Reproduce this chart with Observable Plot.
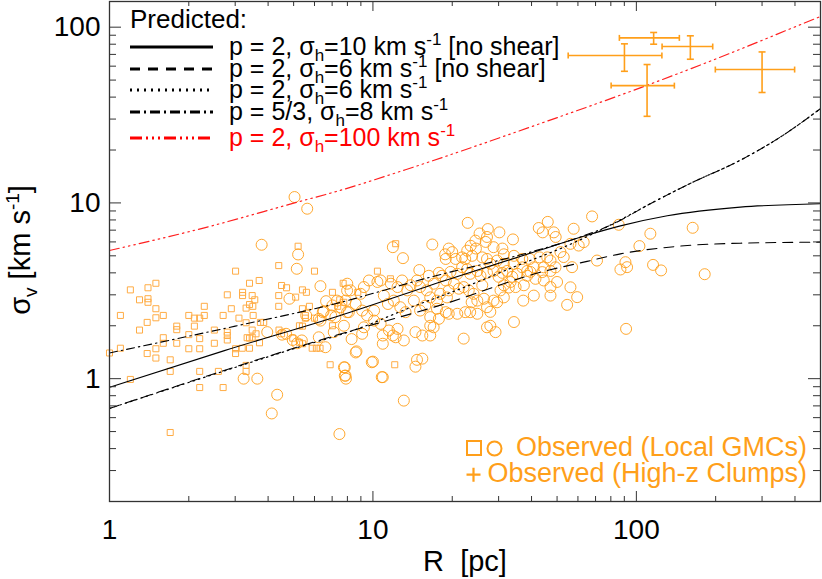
<!DOCTYPE html>
<html><head><meta charset="utf-8">
<script src="https://cdn.jsdelivr.net/npm/d3@7"></script>
<script src="https://cdn.jsdelivr.net/npm/@observablehq/plot@0.6"></script>
<style>body{margin:0;background:#fff;}</style>
</head><body><div id="chart"></div>
<script>
// Local GMCs (squares): [R pc, sigma km/s]
const squares = [[1.00,1.40],[1.10,2.29],[1.20,3.20],[1.30,2.81],[1.40,2.85],[1.40,2.72],[1.40,3.29],[1.50,3.49],[1.50,2.50],[1.50,2.22],[1.60,2.29],[1.39,2.09],[1.30,1.89],[1.10,1.49],[1.20,0.99],[1.60,1.71],[1.50,1.48],[1.50,1.31],[1.39,1.39],[1.60,1.59],[1.70,1.28],[1.80,1.99],[1.80,1.90],[1.80,1.59],[1.70,1.10],[2.00,2.29],[2.10,2.21],[2.20,2.21],[2.10,1.99],[2.29,2.58],[2.29,2.29],[2.00,1.78],[2.00,1.48],[2.20,1.69],[2.20,1.48],[2.50,1.89],[2.50,1.59],[2.70,2.29],[2.80,3.00],[2.90,2.50],[3.01,4.09],[2.80,1.84],[2.80,1.76],[2.80,1.66],[3.01,1.48],[3.01,1.39],[3.10,2.21],[3.20,3.10],[3.20,2.97],[3.30,2.52],[3.40,3.49],[3.40,2.64],[3.48,2.97],[3.51,2.29],[3.56,2.81],[3.70,3.62],[3.74,2.09],[3.85,2.09],[3.48,1.89],[3.48,1.72],[3.33,1.71],[4.39,4.40],[4.50,3.39],[4.39,2.97],[4.39,2.58],[4.40,1.89],[4.70,3.29],[5.09,2.91],[5.20,5.67],[5.40,3.20],[5.59,3.10],[5.40,2.50],[6.00,4.09],[5.54,2.29],[5.54,2.21],[5.40,1.99],[6.00,2.21],[7.02,3.10],[7.71,3.49],[7.48,2.81],[2.20,1.10],[2.59,1.10],[2.70,0.89],[2.20,0.89],[3.30,1.19],[3.30,1.10],[3.19,1.49],[3.40,1.49],[3.30,2.08],[3.40,1.70],[3.60,1.80],[3.71,1.60],[3.50,2.58],[4.50,1.80],[4.96,1.70],[5.26,1.61],[5.41,1.58],[5.26,2.00],[5.74,2.58],[5.88,1.49],[6.10,1.49],[6.30,1.49],[6.88,1.20],[7.02,2.00],[7.35,2.58],[1.70,0.494],[8.76,3.10],[10.4,4.09],[11.65,3.70],[12.2,5.86],[12.1,1.20],[7.75,2.72]];

// Local GMCs (circles): [R pc, sigma km/s]
const circles = [[22.9,7.7],[27.3,7.1],[30.2,6.8],[34.0,6.2],[42.6,7.2],[46.1,7.8],[44.1,6.8],[48.6,6.8],[49.4,6.4],[16.8,5.8],[11.9,5.6],[13.0,4.85],[19.4,5.5],[18.8,5.1],[20.0,5.25],[20.6,4.8],[18.9,4.8],[22.8,5.35],[23.5,5.7],[24.5,6.1],[25.4,6.7],[27.1,6.4],[26.8,6.0],[28.7,5.6],[31.0,5.5],[31.4,5.1],[24.6,5.5],[23.8,5.0],[21.8,4.9],[22.4,4.8],[26.0,4.9],[27.1,4.8],[29.6,4.7],[27.9,4.5],[31.4,4.5],[34.3,5.0],[34.2,4.5],[36.9,4.8],[39.4,4.8],[45.9,4.9],[42.9,4.9],[47.2,4.7],[40.8,4.3],[38.5,4.1],[36.9,4.3],[44.5,4.3],[47.2,4.1],[49.3,4.3],
[15.0,4.15],[16.3,3.85],[17.0,3.47],[17.8,4.0],[18.3,3.85],[18.9,3.62],[19.7,4.05],[20.9,3.95],[21.8,4.31],[22.8,4.2],[23.4,3.95],[24.9,4.1],[25.6,3.85],[27.1,4.0],[28.7,4.1],[30.0,3.8],[31.0,4.0],[32.3,4.1],[33.8,3.8],[35.3,3.95],[38.5,3.85],[39.6,4.05],[41.4,3.7],[44.5,3.62],[47.2,3.32],[50.0,3.55],[31.4,3.4],[32.8,3.3],[34.8,3.32],[37.4,3.4],[40.8,2.97],[47.2,2.97],[37.2,2.78],[29.6,2.72],[27.1,2.55],[27.9,2.4],[28.7,2.78],[26.4,2.85],[24.9,2.78],[24.1,3.04],[23.1,3.18],[22.1,3.32],[21.2,3.25],[20.3,3.47],[19.4,3.18],[19.1,2.9],[18.0,3.04],[17.5,2.78],[16.5,2.9],[16.0,3.18],[15.1,3.32],[14.7,3.62],[13.9,3.4],[13.5,3.18],[12.9,3.62],[12.4,3.32],[11.7,3.47],[10.7,3.62],[10.4,3.55],[9.66,3.62],[9.24,3.32],[8.98,3.04],[8.22,3.18],[7.99,3.47],[7.87,2.78],[7.31,2.78],[7.53,2.55],[7.2,2.24],[8.1,2.39],[8.6,2.66],[9.1,2.44],[9.5,2.29],[10.1,2.44],[11.0,2.97],[11.4,2.66],[12.0,2.78],[12.7,2.55],[13.3,2.39],[14.3,2.78],[15.1,2.44],[15.8,2.6],[16.5,2.24],[17.5,2.5],[18.9,2.39],[19.4,2.34],[20.9,2.34],[22.4,2.39],[23.4,2.39],[23.7,2.72],[24.9,2.34],[27.1,1.96],[29.2,1.84],[27.9,2.0],[34.3,2.1],[31.4,2.9],[30.5,3.18],[33.3,3.55],[26.0,3.4],
[9.24,1.96],[10.1,2.14],[10.7,2.05],[11.5,1.88],[12.4,1.92],[12.2,1.72],[11.9,1.76],[13.1,1.65],[14.5,1.84],[15.4,1.76],[16.5,2.0],[17.8,2.19],[16.5,1.76],[17.0,1.96],[10.9,1.76],[10.9,1.58],[9.1,1.8],[8.3,1.68],[7.76,2.0],[7.1,1.84],[8.6,1.41],[9.9,1.24],[7.76,1.16],[7.87,1.04],[10.9,1.02],[14.5,1.17],[15.4,1.3],[22.1,1.69],
[67.9,8.38],[57.8,7.13],[63.1,5.98],[60.4,5.72],[56.2,5.85],[85.7,7.51],[113,6.68],[163.6,7.22],[102.7,5.68],[70.9,4.70],[57.0,4.31],[51.5,5.25],[53.0,4.92],[43.9,4.04],[87.0,4.18],[90.9,4.60],[92.2,4.31],[115.7,4.44],[124.1,4.13],[181.7,3.93],
[13.1,0.75],[54.6,2.63],[59.6,2.91],[56.2,3.31],[91.4,1.92],
[5.04,10.8],[5.63,9.27],[3.78,5.78],[5.20,5.09],[5.14,4.22],[6.32,3.36],[4.82,2.85],[6.64,2.76],[6.23,2.19],[6.50,2.42],[7.02,2.61],[5.58,2.29],[3.97,1.84],[4.52,1.78],[4.96,1.66],[5.16,1.59],[5.37,1.65],[6.23,1.72],[6.60,1.51],[7.82,1.16],[7.82,1.04],[3.23,1.0],[3.64,1.0],[7.98,2.39],[7.98,3.17],[6.32,2.14],[4.33,0.81],[4.13,0.634],[7.46,0.484],[4.68,1.80],[6.45,2.39],[6.94,2.29],[7.9,1.0],[10.0,1.25],[10.8,1.02],[8.66,1.43],[14.7,1.28]];

// High-z clumps with error bars
const clumpR     = [116.3, 160.3,  90.1, 109.8, 300.0];
const clumpRlo   = [ 86.2, 125.2,  55.1,  80.2, 199.4];
const clumpRhi   = [145.6, 194.9, 125.0, 139.4, 398.8];
const clumpSig   = [ 86.9,  77.6,  69.0,  46.5,  57.4];
const clumpSigLo = [ 80.0,  65.7,  56.1,  31.1,  42.5];
const clumpSigHi = [ 93.3,  89.3,  80.4,  61.3,  72.3];

// Predicted curves
const solidR   = [1, 2.73, 7.46, 18.8, 43.2, 65, 87, 131, 248, 500];
const solidS   = [0.892, 1.444, 2.28, 3.62, 5.4, 6.55, 7.4, 8.45, 9.46, 9.90];
const dashedR  = [1, 7.2, 18.8, 43.2, 65, 87, 147, 248, 500];
const dashedS  = [0.677, 1.76, 2.67, 4.03, 4.65, 5.13, 5.68, 5.90, 5.98];
const dottedR  = [1, 5, 9, 13.5, 22.1, 35.3, 53, 80, 113, 160, 248, 352, 500];
const dottedS  = [0.677, 1.48, 1.95, 2.5, 3.3, 4.4, 5.6, 7.5, 9.9, 12.9, 17.5, 23.7, 34.4];
const dashdotR = [1, 3, 7.2, 16.5, 39.6, 60, 82, 113, 160, 248, 352, 500];
const dashdotS = [1.40, 1.99, 2.67, 3.78, 5.25, 6.33, 7.61, 9.9, 12.9, 17.5, 23.7, 34.4];
const redR     = [1, 2.4, 5.04, 7.46, 13.2, 43.2, 104, 197, 444, 500];
const redS     = [5.36, 7.35, 10.0, 11.75, 15.4, 28.3, 45.3, 65.3, 107, 115];

const xMajor = [1, 10, 100];
const xMinor = [2,3,4,5,6,7,8,9,20,30,40,50,60,70,80,90,200,300,400];
const yMajor = [1, 10, 100];
const yMinor = [0.2,0.3,0.4,0.5,0.6,0.7,0.8,0.9,2,3,4,5,6,7,8,9,20,30,40,50,60,70,80,90];

const legendRows = [
  {pre: "p = 2, ", val: "=10 km s", post: " [no shear]", dash: null, color: "#000"},
  {pre: "p = 2, ", val: "=6 km s",  post: " [no shear]", dash: "10,8", color: "#000"},
  {pre: "p = 2, ", val: "=6 km s",  post: "", dash: "2,5", color: "#000"},
  {pre: "p = 5/3, ", val: "=8 km s", post: "", dash: "10,4,2,4", color: "#000"},
  {pre: "p = 2, ", val: "=100 km s", post: "", dash: "12,4,2,4,2,4,2,4", color: "#ff0000"}
];

const ORANGE = "#ff9f1a";
const W = 822, H = 579, ML = 109, MR = 2, MT = 1, MB = 78;
const FW = W - ML - MR, FH = H - MT - MB;

const toPts = (R, S) => R.map((r, i) => ({R: r, S: S[i]}));
const sqData = squares.map(([R, S]) => ({R, S}));
const ciData = circles.map(([R, S]) => ({R, S}));
const clumps = clumpR.map((r, i) => ({R: r, Rlo: clumpRlo[i], Rhi: clumpRhi[i], S: clumpSig[i], Slo: clumpSigLo[i], Shi: clumpSigHi[i]}));

const hCap = {draw(ctx, size) { const r = Math.sqrt(size / Math.PI); ctx.moveTo(-r, 0); ctx.lineTo(r, 0); }};
const vCap = {draw(ctx, size) { const r = Math.sqrt(size / Math.PI); ctx.moveTo(0, -r); ctx.lineTo(0, r); }};

const lineOpts = (dash, color, w) => ({x: "R", y: "S", stroke: color, strokeWidth: w, strokeDasharray: dash, curve: "monotone-x", clip: true});

const chart = Plot.plot({
  width: W, height: H, marginLeft: ML, marginRight: MR, marginTop: MT, marginBottom: MB,
  style: {fontFamily: "'Liberation Sans', Arial, sans-serif", fontSize: "28px", background: "#fff", color: "#000"},
  x: {type: "log", domain: [1, 500], ticks: xMajor, tickSize: 0, tickPadding: 18, tickFormat: d => String(d), label: null},
  y: {type: "log", domain: [0.2, 140], ticks: yMajor, tickSize: 0, tickPadding: 9, tickFormat: d => String(d), label: null},
  marks: [
    Plot.dot(sqData, {x: "R", y: "S", symbol: "square", r: 3.4, stroke: "#ffac45", strokeWidth: 1, fill: "none"}),
    Plot.dot(ciData, {x: "R", y: "S", r: 5.5, stroke: ORANGE, strokeWidth: 1, fill: "none", strokeOpacity: 0.9}),
    Plot.line(toPts(redR, redS), lineOpts("10,4,1.5,4,1.5,4,1.5,4", "#ff2020", 1.2)),
    Plot.line(toPts(dottedR, dottedS), lineOpts("1.5,4", "#000", 1.2)),
    Plot.line(toPts(dashedR, dashedS), lineOpts("10,7", "#000", 1.1)),
    Plot.line(toPts(dashdotR, dashdotS), lineOpts("8,4,1.5,4", "#000", 1.1)),
    Plot.line(toPts(solidR, solidS), lineOpts(null, "#000", 1.1)),
    Plot.link(clumps, {x1: "Rlo", x2: "Rhi", y1: "S", y2: "S", stroke: ORANGE, strokeWidth: 1.6}),
    Plot.link(clumps, {x1: "R", x2: "R", y1: "Slo", y2: "Shi", stroke: ORANGE, strokeWidth: 1.6}),
    Plot.dot(clumps, {x: "Rlo", y: "S", symbol: vCap, r: 3, stroke: ORANGE, strokeWidth: 1.6, fill: "none"}),
    Plot.dot(clumps, {x: "Rhi", y: "S", symbol: vCap, r: 3, stroke: ORANGE, strokeWidth: 1.6, fill: "none"}),
    Plot.dot(clumps, {x: "R", y: "Slo", symbol: hCap, r: 3.5, stroke: ORANGE, strokeWidth: 1.6, fill: "none"}),
    Plot.dot(clumps, {x: "R", y: "Shi", symbol: hCap, r: 3.5, stroke: ORANGE, strokeWidth: 1.6, fill: "none"}),
    // inward ticks on all four sides
    Plot.ruleX(xMajor, {x: d => d, insetTop: FH - 10, stroke: "#333"}),
    Plot.ruleX(xMinor, {x: d => d, insetTop: FH - 5, stroke: "#333"}),
    Plot.ruleX(xMajor, {x: d => d, insetBottom: FH - 10, stroke: "#333"}),
    Plot.ruleX(xMinor, {x: d => d, insetBottom: FH - 5, stroke: "#333"}),
    Plot.ruleY(yMajor, {y: d => d, insetRight: FW - 12, stroke: "#333"}),
    Plot.ruleY(yMinor, {y: d => d, insetRight: FW - 7, stroke: "#333"}),
    Plot.ruleY(yMajor, {y: d => d, insetLeft: FW - 12, stroke: "#333"}),
    Plot.ruleY(yMinor, {y: d => d, insetLeft: FW - 7, stroke: "#333"}),
    Plot.frame({stroke: "#333", strokeWidth: 1.3})
  ]
});
document.getElementById("chart").appendChild(chart);

const svg = d3.select(chart);
const font = "'Liberation Sans', Arial, sans-serif";

// Axis titles
svg.append("text").attr("x", 465).attr("y", 571).attr("text-anchor", "middle")
  .attr("font-family", font).attr("font-size", 29).attr("fill", "#000").style("white-space", "pre").text("R  [pc]");
const yt = svg.append("text").attr("transform", "translate(30,250) rotate(-90)").attr("text-anchor", "middle")
  .attr("font-family", font).attr("font-size", 29).attr("fill", "#000").style("white-space", "pre");
yt.append("tspan").text("\u03c3");
yt.append("tspan").attr("dy", 7).attr("font-size", 19).text("v");
yt.append("tspan").attr("dy", -7).text(" [km s");
yt.append("tspan").attr("dy", -11).attr("font-size", 19).text("-1");
yt.append("tspan").attr("dy", 11).text("]");

// Predicted legend (top-left)
const lg = svg.append("g").attr("font-family", font).attr("text-anchor", "start");
lg.append("text").attr("x", 130).attr("y", 28).attr("text-anchor", "start").attr("font-size", 26).attr("fill", "#000").text("Predicted:");
const rowY = [47, 69, 90, 112, 138];
legendRows.forEach((row, i) => {
  const y = rowY[i];
  lg.append("line").attr("x1", 130).attr("x2", 213).attr("y1", y).attr("y2", y)
    .attr("stroke", row.color).attr("stroke-width", 3).attr("stroke-dasharray", row.dash);
  const t = lg.append("text").attr("x", 229).attr("y", y + 8).attr("text-anchor", "start")
    .attr("font-size", 25).attr("fill", row.color).style("white-space", "pre");
  t.append("tspan").text(row.pre + "\u03c3");
  t.append("tspan").attr("dy", 6).attr("font-size", 17).text("h");
  t.append("tspan").attr("dy", -6).text(row.val);
  t.append("tspan").attr("dy", -10).attr("font-size", 17).text("-1");
  t.append("tspan").attr("dy", 10).text(row.post);
});

// Observed legend (bottom-right)
const og = svg.append("g").attr("font-family", font);
og.append("rect").attr("x", 467).attr("y", 441).attr("width", 14).attr("height", 14).attr("fill", "none").attr("stroke", ORANGE).attr("stroke-width", 2);
og.append("circle").attr("cx", 494.5).attr("cy", 448.5).attr("r", 7).attr("fill", "none").attr("stroke", ORANGE).attr("stroke-width", 2);
og.append("text").attr("x", 807).attr("y", 455.5).attr("text-anchor", "end").attr("font-size", 27).attr("fill", ORANGE).text("Observed (Local GMCs)");
og.append("path").attr("d", "M466.5,474.7H480.5M473.5,467.7V481.7").attr("stroke", ORANGE).attr("stroke-width", 2.2);
og.append("text").attr("x", 807).attr("y", 481.5).attr("text-anchor", "end").attr("font-size", 27).attr("fill", ORANGE).text("Observed (High-z Clumps)");
</script>
</body></html>
